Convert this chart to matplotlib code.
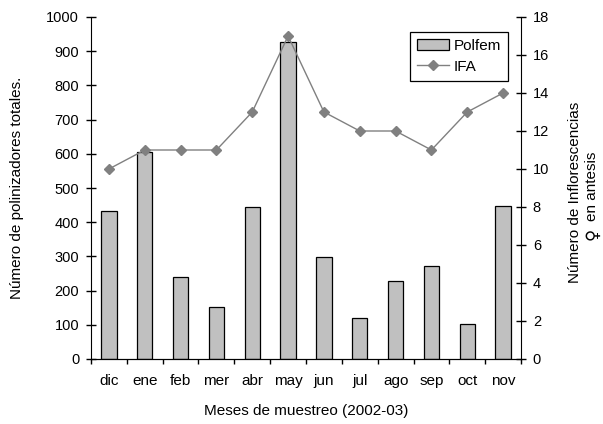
import numpy as np
import matplotlib
matplotlib.use('Agg')
import matplotlib.pyplot as plt

plt.rcParams['font.family'] = ['Liberation Sans', 'DejaVu Sans']
plt.rcParams['font.size'] = 10

# data
meses = ['dic', 'ene', 'feb', 'mer', 'abr', 'may', 'jun', 'jul', 'ago', 'sep', 'oct', 'nov']
polfem = [433, 604, 241, 153, 443, 926, 297, 121, 229, 272, 101, 447]
ifa = [10, 11, 11, 11, 13, 17, 13, 12, 12, 11, 13, 14]

W, H = 603, 424
fig = plt.figure(figsize=(W / 100, H / 100), dpi=100)
ax = fig.add_axes([91 / W, 1 - 359 / H, 430 / W, 342 / H])
x = np.arange(len(meses))

bars = ax.bar(x, polfem, width=0.43, color='#c0c0c0', edgecolor='black', linewidth=0.9, zorder=2)
ax.set_xlim(-0.5, len(meses) - 0.5)
ax.set_ylim(0, 1000)
ax.set_yticks(range(0, 1001, 100))
ax.set_xticks(x)
ax.set_xticklabels(meses, fontsize=11)
ax.tick_params(axis='x', which='major', length=0, pad=11)
ax.set_xticks(np.arange(-0.5, len(meses)), minor=True)
ax.tick_params(axis='x', which='minor', direction='out', length=3.5, width=1)
ax.tick_params(axis='y', direction='inout', length=7, width=1, pad=5, labelsize=10.5)
ax.spines['top'].set_visible(False)
ax.spines['right'].set_visible(False)

ax2 = ax.twinx()
line, = ax2.plot(x, ifa, color='#808080', marker='D', markersize=5, markerfacecolor='#808080',
                 markeredgecolor='#808080', linewidth=1, zorder=3)
ax2.set_ylim(0, 18)
ax2.set_yticks(range(0, 19, 2))
ax2.tick_params(axis='y', direction='inout', length=7, width=1, pad=5, labelsize=10.5)
ax2.spines['top'].set_visible(False)
ax2.spines['left'].set_visible(False)

# axis titles
fig.text(17 / W, 1 - 188 / H, 'Número de polinizadores totales.', rotation=90,
         ha='center', va='center', fontsize=11)
fig.text(306 / W, 1 - 411 / H, 'Meses de muestreo (2002-03)', ha='center', va='center', fontsize=11)
fig.text(575 / W, 1 - 192 / H, 'Número de Inflorescencias', rotation=90,
         ha='center', va='center', fontsize=11)
fig.text(592 / W, 1 - 186 / H, 'en antesis', rotation=90, ha='center', va='center', fontsize=11)
fig.text(592 / W, 1 - 234 / H, '♀', rotation=90, ha='center', va='center', fontsize=12,
         family=['DejaVu Sans'])

leg = ax2.legend([bars, line], ['Polfem', 'IFA'], loc='upper right', bbox_to_anchor=(0.970, 0.956),
                 fancybox=False, edgecolor='black', framealpha=1, fontsize=11, handlelength=2.1,
                 handletextpad=0.3, borderpad=0.45, labelspacing=0.45, borderaxespad=0)
leg.get_frame().set_linewidth(0.9)

fig.savefig('out.png', dpi=100)
